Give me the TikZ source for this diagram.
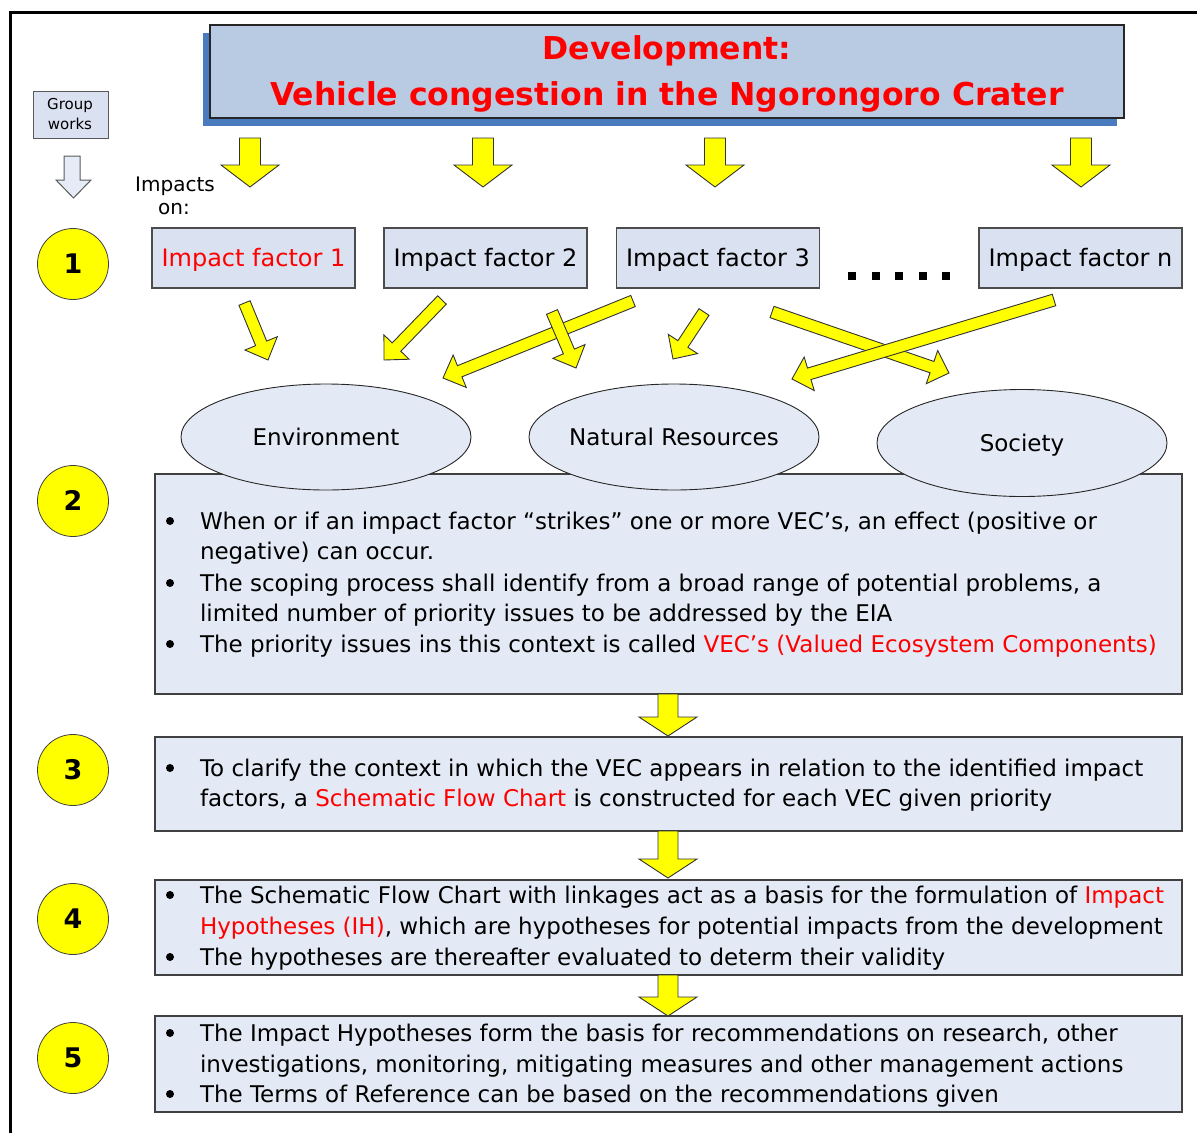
\documentclass[tikz,border=0pt]{standalone}
\usepackage{fontspec}
\setmainfont{DejaVu Sans}
\usetikzlibrary{calc,shapes.geometric}

\definecolor{titlefill}{HTML}{B9CBE3}
\definecolor{titleshadow}{HTML}{4A7BBF}
\definecolor{panelfill}{HTML}{E4EAF5}
\definecolor{factorfill}{HTML}{DAE1F0}
\definecolor{hollowfill}{HTML}{E6ECF7}
\definecolor{pptred}{HTML}{FF0000}
\definecolor{arrowyellow}{HTML}{FFFF00}

% block arrow from #1 to #2: half shaft width #3, half head width #4, head length #5
\newcommand\blockarrow[5]{%
  \path (#1) coordinate (ba-s) (#2) coordinate (ba-e);
  \coordinate (ba-h) at ($(ba-e)!#5!(ba-s)$);
  \filldraw[yarrow] ($(ba-s)!#3!90:(ba-e)$) -- ($(ba-h)!#3!-90:(ba-s)$)
    -- ($(ba-h)!#4!-90:(ba-s)$) -- (ba-e) -- ($(ba-h)!#4!90:(ba-s)$)
    -- ($(ba-h)!#3!90:(ba-s)$) -- ($(ba-s)!#3!-90:(ba-e)$) -- cycle;
}

\begin{document}
\begin{tikzpicture}[x=1pt,y=-1pt,
  every node/.style={inner sep=0pt,outer sep=0pt},
  % centre a line of text on its capital height (argument: font size in pt)
  sized/.style={font=\fontsize{#1}{#1}\selectfont,text height=0.73*#1pt,text depth=0pt},
  yarrow/.style={fill=arrowyellow,draw=black!80,line width=0.9pt,line join=miter},
  panel/.style={draw=black!75,line width=1.3pt,fill=panelfill,anchor=north west},
  factor/.style={draw=black!70,line width=1.2pt,fill=factorfill,minimum width=203,minimum height=60,sized=24},
  vec/.style={ellipse,draw=black!85,line width=0.9pt,fill=panelfill,minimum width=290,minimum height=106,
    inner xsep=-20pt,sized=23},
  numdisc/.style={circle,draw=black!75,line width=0.8pt,fill=arrowyellow,minimum size=71,sized=27,
    font=\fontsize{27}{30}\selectfont\bfseries},
  txt/.style={anchor=west,sized=23},
  ttl/.style={sized=31.5,font=\fontsize{31.5}{34}\selectfont\bfseries,text=pptred},
  bullet/.style={circle,fill=black,minimum size=8}]

\useasboundingbox (0,0) rectangle (1197,1133);

% outer frame (top and left edges)
\draw[line width=3pt] (1197,12) -- (10,12) -- (10,1133);

% title box with its drop shadow
\fill[titleshadow] (203,33) rectangle (1117,126);
\node[draw=black!85,line width=1.4pt,fill=titlefill,anchor=north west,minimum width=914,minimum height=93] (title) at (210,25) {};
\node[ttl] (title1) at (667,48) {Development:};
\node[ttl] (title2) at (667,94) {Vehicle congestion in the Ngorongoro Crater};

% left column: group works
\node[draw=black!65,line width=1pt,fill=factorfill,anchor=north west,minimum width=75,minimum height=47] (gw) at (33,91) {};
\node[sized=15] (gw1) at (70,104) {Group};
\node[sized=15] (gw2) at (70,124) {works};
\filldraw[fill=hollowfill,draw=black!65,line width=1pt]
  (64,156) -- (80,156) -- (80,180) -- (91,180) -- (73.5,198) -- (56,180) -- (64,180) -- cycle;

\node[sized=20] (imp1) at (175,184) {Impacts};
\node[sized=20] (imp2) at (174,207) {on:};

% arrows from the development to the impact factors
\foreach \xx/\nm in {250/a,483/b,715/c,1081/d} {
  \coordinate (dv-\nm-s) at (\xx,138);
  \coordinate (dv-\nm-e) at (\xx,187);
  \blockarrow{dv-\nm-s}{dv-\nm-e}{10.5pt}{29pt}{22pt}
}

% impact factors
\node[factor,text=pptred] (if1) at (253.5,258) {Impact factor 1};
\node[factor] (if2) at (485.5,258) {Impact factor 2};
\node[factor] (if3) at (718,258) {Impact factor 3};
\node[factor] (ifn) at (1080.5,258) {Impact factor n};
\foreach \xx [count=\i] in {852,876,899,923,946}
  \fill (\xx-4,272) rectangle (\xx+4,280);

% step 2 panel
\node[panel,minimum width=1027,minimum height=220] (p2) at (155,474) {};

% valued ecosystem components
\node[vec] (env) at (326,437) {Environment};
\node[vec] (nat) at (674,437) {Natural Resources};
\node[vec,minimum height=107] (soc) at (1022,443) {Society};

% impact factors striking the VECs
\coordinate (sA) at (244.5,303); \coordinate (eA) at (268,360);
\coordinate (sB) at (442,300);   \coordinate (eB) at (384,360);
\coordinate (sC) at (633,301);   \coordinate (eC) at (443,378);
\coordinate (sD) at (552,312);   \coordinate (eD) at (576,368);
\coordinate (sE) at (704,312);   \coordinate (eE) at (673,359);
\coordinate (sF) at (772,312);   \coordinate (eF) at (949,373);
\coordinate (sG) at (1054,300);  \coordinate (eG) at (792,379);
\blockarrow{sA}{eA}{6pt}{17.5pt}{18pt}
\blockarrow{sB}{eB}{6pt}{17.5pt}{18pt}
\blockarrow{sC}{eC}{6pt}{17.5pt}{18pt}
\blockarrow{sD}{eD}{6pt}{17.5pt}{18pt}
\blockarrow{sE}{eE}{6pt}{17.5pt}{18pt}
\blockarrow{sF}{eF}{6pt}{17.5pt}{18pt}
\blockarrow{sG}{eG}{6pt}{17.5pt}{18pt}

% steps 3 to 5 panels
\node[panel,minimum width=1027,minimum height=94] (p3) at (155,737) {};
\node[panel,minimum width=1027,minimum height=95] (p4) at (155,880) {};
\node[panel,minimum width=1027,minimum height=96] (p5) at (155,1016) {};

% step arrows between panels
\coordinate (p23s) at (668,694); \coordinate (p23e) at (668,736);
\coordinate (p34s) at (668,831); \coordinate (p34e) at (668,878);
\coordinate (p45s) at (668,975); \coordinate (p45e) at (668,1016);
\blockarrow{p23s}{p23e}{10pt}{29pt}{19pt}
\blockarrow{p34s}{p34e}{10pt}{29pt}{19pt}
\blockarrow{p45s}{p45e}{10pt}{29pt}{19pt}

% panel texts
\foreach \yy [count=\i] in {521,583,644,768,895,957,1033,1094}
  \node[bullet] (bu\i) at (170,\yy) {};

\node[txt] (t2a) at (200,521) {When or if an impact factor “strikes” one or more VEC’s, an effect (positive or};
\node[txt] (t2b) at (200,551) {negative) can occur.};
\node[txt] (t2c) at (200,583) {The scoping process shall identify from a broad range of potential problems, a};
\node[txt] (t2d) at (200,613) {limited number of priority issues to be addressed by the EIA};
\node[txt] (t2e) at (200,644) {The priority issues ins this context is called \textcolor{pptred}{VEC’s (Valued Ecosystem Components)}};

\node[txt] (t3a) at (200,768) {To clarify the context in which the VEC appears in relation to the identified impact};
\node[txt] (t3b) at (200,798) {factors, a \textcolor{pptred}{Schematic Flow Chart} is constructed for each VEC given priority};

\node[txt] (t4a) at (200,895) {The Schematic Flow Chart with linkages act as a basis for the formulation of \textcolor{pptred}{Impact}};
\node[txt] (t4b) at (200,926) {\textcolor{pptred}{Hypotheses (IH)}, which are hypotheses for potential impacts from the development};
\node[txt] (t4c) at (200,957) {The hypotheses are thereafter evaluated to determ their validity};

\node[txt] (t5a) at (200,1033) {The Impact Hypotheses form the basis for recommendations on research, other};
\node[txt] (t5b) at (200,1064) {investigations, monitoring, mitigating measures and other management actions};
\node[txt] (t5c) at (200,1094) {The Terms of Reference can be based on the recommendations given};

% step numbers
\node[numdisc] (c1) at (73,264) {1};
\node[numdisc] (c2) at (73,501) {2};
\node[numdisc] (c3) at (73,770) {3};
\node[numdisc] (c4) at (73,919) {4};
\node[numdisc] (c5) at (73,1058) {5};
\end{tikzpicture}
\end{document}
